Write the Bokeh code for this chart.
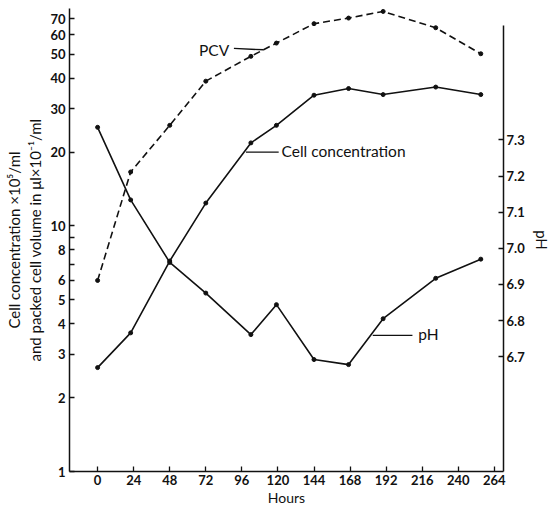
from bokeh.plotting import figure
from bokeh.models import (Range1d, LinearAxis, LinearScale, FixedTicker, Label, Arrow,
                          PrintfTickFormatter)
from bokeh.embed import file_html
from bokeh.resources import INLINE

# ---- data ----
hours = [0, 22, 48, 72, 102, 119, 144, 167, 190, 225, 255]
cell_conc = [2.65, 3.67, 7.2, 12.4, 21.8, 25.7, 34.1, 36.3, 34.3, 36.8, 34.3]
pcv = [6.0, 16.6, 25.7, 38.9, 49.1, 55.6, 66.7, 70.3, 74.8, 64.2, 50.3]
ph = [7.335, 7.134, 6.961, 6.876, 6.761, 6.844, 6.692, 6.678, 6.805, 6.917, 6.97]

x_ticks = [0, 24, 48, 72, 96, 120, 144, 168, 192, 216, 240, 264]
y_ticks = [1, 2, 3, 4, 5, 6, 7, 8, 9, 10, 20, 30, 40, 50, 60, 70]
y_tick_labels = ["1", "2", "3", "4", "5", "6", "", "8", "", "10", "20", "30", "40", "50", "60", "70"]
ph_ticks = [6.7, 6.8, 6.9, 7.0, 7.1, 7.2, 7.3]

FONT = "Lato"
INK = "#111111"

p = figure(width=553, height=508,
           x_range=Range1d(-18.7, 270.1), y_range=Range1d(1, 76.9),
           y_axis_type="log", output_backend="svg", toolbar_location=None,
           min_border_left=69, min_border_right=46, min_border_top=8, min_border_bottom=36)
p.outline_line_color = None
p.grid.visible = False
p.background_fill_color = "white"
p.border_fill_color = "white"

p.extra_y_ranges = {"ph": Range1d(6.382, 7.664)}
p.extra_y_scales = {"ph": LinearScale()}

xa = p.xaxis[0]
xa.ticker = FixedTicker(ticks=x_ticks)
xa.axis_label = "Hours"

ya = p.yaxis[0]
ya.ticker = FixedTicker(ticks=y_ticks)
ya.major_label_overrides = dict(zip(y_ticks, y_tick_labels))
ya.axis_label = "Cell concentration \u00d710\u2075/ml\nand packed cell volume in \u03bcl\u00d710\u207b\u00b9/ml"

ra = LinearAxis(y_range_name="ph", ticker=FixedTicker(ticks=ph_ticks),
                formatter=PrintfTickFormatter(format="%.1f"),
                bounds=(6.382, 7.617), axis_label="pH")
p.add_layout(ra, "right")

for ax in [xa, ya, ra]:
    ax.major_tick_in = 5
    ax.major_tick_out = 0
    ax.minor_tick_line_color = None
    ax.axis_line_color = INK
    ax.axis_line_width = 1.5
    ax.major_tick_line_color = INK
    ax.major_tick_line_width = 1.3
    ax.major_label_text_font = FONT
    ax.major_label_text_font_size = "13px"
    ax.major_label_text_font_style = "bold"
    ax.major_label_text_color = INK
    ax.major_label_standoff = 3
    ax.axis_label_text_font = FONT
    ax.axis_label_text_font_style = "normal"
    ax.axis_label_text_color = INK
xa.axis_label_standoff = 1
xa.axis_label_text_font_size = "14px"
ya.axis_label_standoff = 3
ya.major_label_standoff = 4
ya.axis_label_text_font_size = "15px"
ra.axis_label_standoff = 5
ra.axis_label_text_font_size = "15px"

# series
p.line(hours, pcv, line_color=INK, line_width=1.6, line_dash="7 4")
p.scatter(hours, pcv, size=4, color=INK)
p.line(hours, cell_conc, line_color=INK, line_width=1.6)
p.scatter(hours, cell_conc, size=4, color=INK)
p.line(hours, ph, line_color=INK, line_width=1.6, y_range_name="ph")
p.scatter(hours, ph, size=4, color=INK, y_range_name="ph")

def label(x, y, text, rng="default"):
    p.add_layout(Label(x=x, y=y, text=text, text_font=FONT, text_font_size="15.5px",
                       text_color=INK, text_baseline="middle", y_range_name=rng))

def leader(x0, y0, x1, y1, rng="default"):
    p.add_layout(Arrow(x_start=x0, y_start=y0, x_end=x1, y_end=y1, end=None,
                       line_color=INK, line_width=1.4, y_range_name=rng))

label(67.5, 51.9, "PCV")
leader(90.7, 52.9, 110.6, 52.2)
label(122.4, 20.2, "Cell concentration")
leader(98.7, 20.0, 120.5, 20.0)
label(213.4, 6.764, "pH", rng="ph")
leader(183.1, 6.759, 209.5, 6.759, "ph")

open("out.html", "w").write(file_html(p, INLINE))
